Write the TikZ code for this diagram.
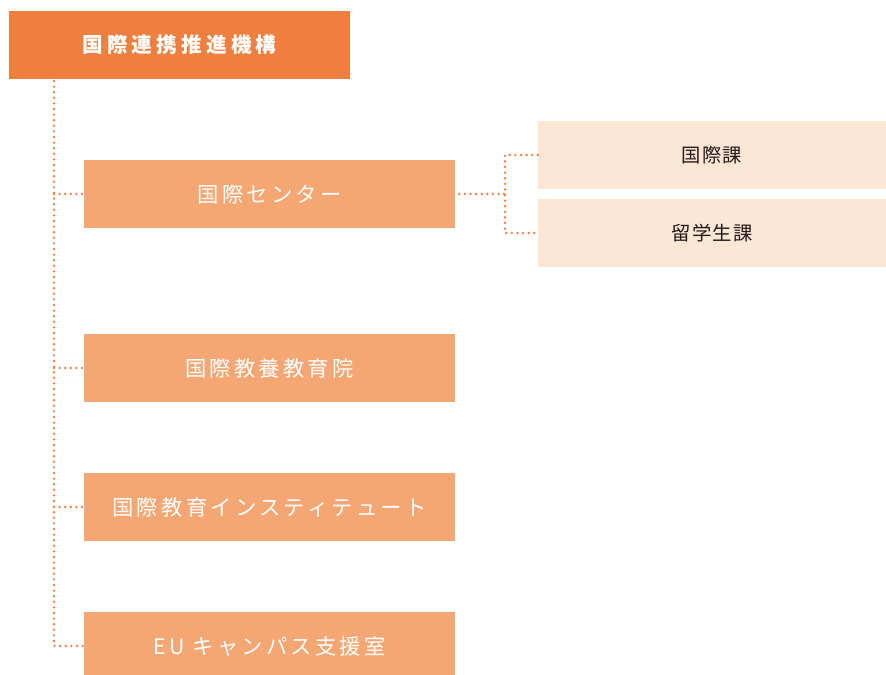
\documentclass[tikz,border=0pt]{standalone}
\usepackage{fontspec}
\newfontfamily\jpfont[LetterSpace=15]{Noto Sans CJK JP}
\newfontfamily\jphead[LetterSpace=20]{Noto Sans CJK JP}
\newfontfamily\jpsmall[LetterSpace=6]{Noto Sans CJK JP}
\definecolor{orgdeep}{HTML}{EE7F3E}
\definecolor{orgmid}{HTML}{F4A773}
\definecolor{orglight}{HTML}{FCE6D6}
\definecolor{orgtext}{HTML}{231815}
\begin{document}
\begin{tikzpicture}[x=0.75pt,y=-0.75pt,line cap=round,
    headbox/.style={fill=orgdeep,text=white,minimum width=255.75pt,minimum height=51pt,inner sep=0pt,font=\jphead\bfseries\fontsize{15.5pt}{18pt}\selectfont},
    unitbox/.style={fill=orgmid,text=white,minimum width=278.25pt,minimum height=51pt,inner sep=0pt,font=\jpfont\fontsize{16pt}{19pt}\selectfont},
    sectbox/.style={fill=orglight,text=orgtext,minimum width=261pt,minimum height=51pt,inner sep=0pt,font=\jpsmall\fontsize{14.5pt}{17pt}\selectfont},
    dots/.style={draw=orgdeep,line width=2pt,dash pattern=on 0pt off 4.2pt}]
    \useasboundingbox (0,0) rectangle (886,675);
    % boxes
    \node[headbox] (top) at (179.5,45) {国際連携推進機構};
    \node[unitbox] (center) at (269.5,194) {国際センター};
    \node[unitbox] (liberal) at (269.5,368) {国際教養教育院};
    \node[unitbox] (inst) at (269.5,507) {国際教育インスティテュート};
    \node[unitbox] (eu) at (269.5,646) {EU キャンパス支援室};
    \node[sectbox] (kokusai) at (712,155) {国際課};
    \node[sectbox] (ryugaku) at (712,233) {留学生課};
    % connectors
    \coordinate (trunk) at (54,81);
    \coordinate (fork) at (505,194);
    \draw[dots] (trunk) |- (eu.west);
    \foreach \n in {center,liberal,inst}\draw[dots] (\n.west -| trunk) -- (\n.west);
    \draw[dots] ([xshift=3]center.east) -- (fork);
    \draw[dots] (kokusai.west) -| (fork) |- (ryugaku.west);
\end{tikzpicture}
\end{document}
